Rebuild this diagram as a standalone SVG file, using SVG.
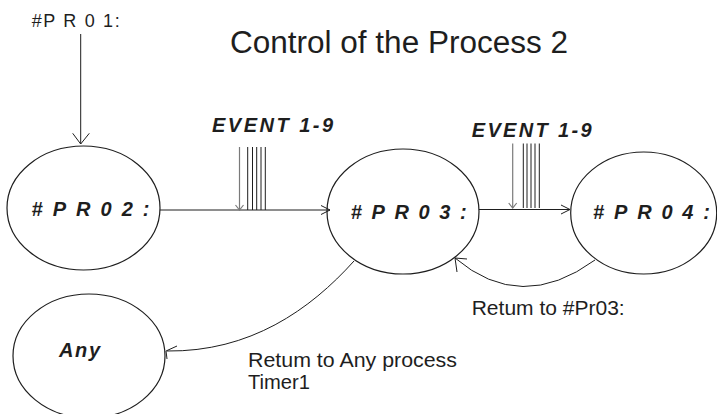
<svg xmlns="http://www.w3.org/2000/svg" width="717" height="414" viewBox="0 0 717 414">
<style>
  .bg{fill:#ffffff}
  .node{fill:none;stroke:#1e1e1e;stroke-width:1.2}
  .line{fill:none;stroke:#1e1e1e;stroke-width:1}
  .grey{fill:none;stroke:#7a7a7a;stroke-width:1.2}
  .head{fill:none;stroke:#1e1e1e;stroke-width:1}
  .lbl{font-family:"Liberation Sans",Arial,sans-serif;font-weight:bold;font-style:italic;font-size:20px;fill:#1e1e1e}
  .txt{font-family:"Liberation Sans",Arial,sans-serif;font-size:20px;fill:#1e1e1e}
  .title{font-family:"Liberation Sans",Arial,sans-serif;font-size:31px;fill:#1e1e1e}
</style>
<rect class="bg" x="0" y="0" width="717" height="414"/>
<text class="title" x="230" y="52.7" textLength="338" lengthAdjust="spacingAndGlyphs">Control of the Process 2</text>

<g id="connectors">
  <!-- PR01 to PR02 -->
  <line class="line" x1="80.7" y1="34" x2="80.7" y2="144"/>
  <polyline class="head" points="72.7,133.3 80.7,144 89.3,133.3"/>
  <!-- PR02 to PR03 -->
  <line class="line" x1="160" y1="210" x2="330" y2="210"/>
  <polyline class="head" points="321,205.5 330,210 321,214.5"/>
  <!-- PR03 to PR04 -->
  <line class="line" x1="479" y1="209.5" x2="570" y2="209.5"/>
  <polyline class="head" points="561,205 570,209.5 561,214"/>
  <!-- PR04 back to PR03 -->
  <path class="line" d="M595,260 Q521,314 455,258"/>
  <polyline class="head" points="467,259 455,258 457,272"/>
  <!-- PR03 to Any -->
  <path class="line" d="M354,261 C310,310 250,352 167,351"/>
  <polyline class="head" points="177,346 166,351 167,359"/>
</g>

<g id="event1">
  <text class="lbl" x="212" y="131.7" textLength="121" lengthAdjust="spacing">EVENT 1-9</text>
  <line class="grey" x1="239.5" y1="147" x2="239.5" y2="210"/>
  <polyline class="grey" points="235.5,205 239.5,210 243.5,205"/>
  <line class="line" x1="247.7" y1="147" x2="247.7" y2="210"/>
  <line class="line" x1="252.5" y1="147" x2="252.5" y2="210"/>
  <line class="line" x1="256.7" y1="147" x2="256.7" y2="210"/>
  <line class="line" x1="261" y1="147" x2="261" y2="210"/>
  <line class="line" x1="265.3" y1="147" x2="265.3" y2="210"/>
</g>

<g id="event2">
  <text class="lbl" x="471.7" y="136.7" textLength="120" lengthAdjust="spacing">EVENT 1-9</text>
  <line class="grey" x1="512.7" y1="143.5" x2="512.7" y2="208"/>
  <polyline class="grey" points="508.7,203 512.7,208 516.7,203"/>
  <line class="line" x1="523.3" y1="143.5" x2="523.3" y2="208"/>
  <line class="line" x1="527" y1="143.5" x2="527" y2="208"/>
  <line class="line" x1="531" y1="143.5" x2="531" y2="208"/>
  <line class="line" x1="535" y1="143.5" x2="535" y2="208"/>
  <line class="line" x1="539.3" y1="143.5" x2="539.3" y2="208"/>
</g>

<g id="pr01">
  <text class="txt" x="31.7" y="26.7" style="font-size:18px" textLength="88" lengthAdjust="spacing">#P R 0 1:</text>
</g>

<g id="pr02">
  <ellipse class="node" cx="83.5" cy="208" rx="76.5" ry="62"/>
  <text class="lbl" x="31.5" y="216" textLength="118" lengthAdjust="spacing">#PR02:</text>
</g>

<g id="pr03">
  <ellipse class="node" cx="403" cy="211.5" rx="76" ry="62.5"/>
  <text class="lbl" x="350.7" y="219" textLength="116" lengthAdjust="spacing">#PR03:</text>
</g>

<g id="pr04">
  <ellipse class="node" cx="643.7" cy="213" rx="73" ry="61"/>
  <text class="lbl" x="593" y="219" textLength="117" lengthAdjust="spacing">#PR04:</text>
</g>

<g id="any">
  <ellipse class="node" cx="89" cy="356" rx="76" ry="62"/>
  <text class="lbl" x="59" y="356.7" textLength="41" lengthAdjust="spacing">Any</text>
</g>

<g id="labels">
  <text class="txt" x="471.7" y="315" textLength="153" lengthAdjust="spacingAndGlyphs">Retum to #Pr03:</text>
  <text class="txt" x="248" y="366.7" textLength="209" lengthAdjust="spacingAndGlyphs">Retum to Any process</text>
  <text class="txt" x="248" y="389.3" textLength="62" lengthAdjust="spacingAndGlyphs">Timer1</text>
</g>
</svg>
